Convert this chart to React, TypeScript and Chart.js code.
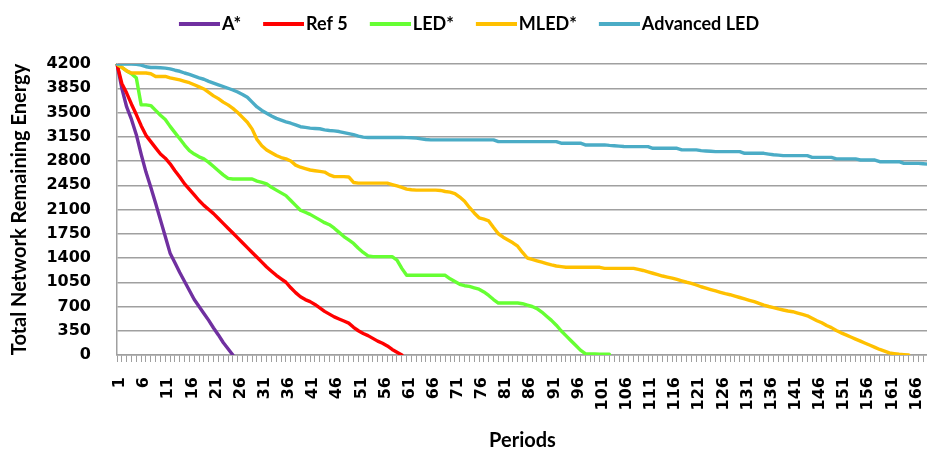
import React, { useEffect, useRef } from 'react';
import { Chart, registerables } from 'chart.js';

Chart.register(...registerables);

// Categories: periods 1..169
const PERIODS: string[] = Array.from({ length: 169 }, (_, i) => String(i + 1));

const Y_MIN = 0;
const Y_MAX = 4200;
const Y_STEP = 350;

const SERIES_NAMES = ['A*', 'Ref 5', 'LED*', 'MLED*', 'Advanced LED'];
const SERIES_COLORS = ['#7030A0', '#FF0000', '#66FF33', '#FFC000', '#4BACC6'];

const A_STAR = [
  4200, 3850, 3580, 3400, 3180, 2900, 2640, 2420, 2190, 1950,
  1710, 1470, 1330, 1190, 1060, 930, 800, 700, 600, 500,
  390, 290, 180, 90, 0,
];

const REF_5 = [
  4200, 3920, 3780, 3620, 3470, 3310, 3170, 3080, 2990, 2900,
  2840, 2760, 2660, 2570, 2470, 2390, 2310, 2230, 2160, 2100,
  2040, 1970, 1900, 1830, 1760, 1690, 1620, 1550, 1480, 1410,
  1340, 1270, 1210, 1150, 1100, 1050, 970, 900, 840, 800,
  770, 730, 680, 630, 590, 550, 520, 490, 460, 400,
  350, 310, 280, 240, 200, 170, 130, 80, 40, 0,
];

const LED = [
  4200, 4150, 4100, 4060, 4000, 3610, 3610, 3600, 3530, 3460,
  3400, 3300, 3210, 3120, 3030, 2950, 2900, 2860, 2830, 2780,
  2720, 2660, 2600, 2550, 2540, 2540, 2540, 2540, 2540, 2510,
  2490, 2470, 2420, 2380, 2340, 2300, 2230, 2160, 2090, 2060,
  2030, 1990, 1950, 1910, 1880, 1830, 1770, 1710, 1660, 1610,
  1540, 1480, 1430, 1420, 1420, 1420, 1420, 1420, 1370, 1250,
  1150, 1150, 1150, 1150, 1150, 1150, 1150, 1150, 1150, 1100,
  1060, 1020, 1000, 990, 970, 950, 910, 860, 800, 750,
  750, 750, 750, 750, 740, 720, 700, 670, 620, 560,
  500, 430, 350, 280, 210, 140, 70, 20, 15, 15,
  10, 10, 10,
];

const MLED = [
  4200, 4150, 4100, 4070, 4070, 4070, 4070, 4060, 4020, 4020,
  4020, 4000, 3985, 3970, 3950, 3930, 3900, 3870, 3840, 3790,
  3740, 3700, 3650, 3610, 3560, 3500, 3430, 3360, 3260, 3110,
  3020, 2960, 2920, 2880, 2850, 2830, 2800, 2740, 2710, 2690,
  2670, 2660, 2650, 2640, 2600, 2575, 2575, 2575, 2570, 2490,
  2480, 2480, 2480, 2480, 2480, 2480, 2480, 2460, 2440, 2420,
  2395, 2385, 2380, 2380, 2380, 2380, 2380, 2375, 2360, 2350,
  2330, 2280, 2220, 2130, 2050, 1980, 1960, 1935, 1840, 1750,
  1700, 1660, 1620, 1570, 1480, 1400, 1380, 1360, 1340, 1320,
  1300, 1285, 1275, 1266, 1266, 1266, 1266, 1266, 1266, 1266,
  1266, 1250, 1250, 1250, 1250, 1250, 1250, 1250, 1235, 1220,
  1200, 1180, 1160, 1140, 1125, 1110, 1090, 1070, 1050, 1035,
  1010, 985, 965, 945, 925, 905, 885, 870, 850, 830,
  810, 790, 770, 745, 720, 700, 685, 665, 650, 635,
  625, 605, 585, 565, 530, 495, 465, 425, 395, 355,
  320, 290, 260, 230, 200, 170, 140, 110, 80, 55,
  30, 20, 10, 5, 0,
];

const ADVANCED_LED = [
  4200, 4200, 4200, 4200, 4195, 4185, 4160, 4150, 4150, 4145,
  4140, 4130, 4110, 4095, 4070, 4050, 4025, 4000, 3980, 3950,
  3925, 3900, 3875, 3850, 3825, 3795, 3760, 3720, 3650, 3580,
  3530, 3490, 3450, 3415, 3390, 3365, 3345, 3320, 3295, 3285,
  3275, 3270, 3265, 3250, 3240, 3235, 3225, 3210, 3195, 3180,
  3160, 3145, 3140, 3140, 3140, 3140, 3140, 3140, 3140, 3140,
  3137, 3135, 3130, 3120, 3110, 3105, 3105, 3105, 3105, 3105,
  3105, 3105, 3105, 3105, 3105, 3105, 3105, 3105, 3105, 3080,
  3080, 3080, 3080, 3080, 3080, 3080, 3080, 3080, 3080, 3080,
  3080, 3080, 3057, 3057, 3057, 3057, 3057, 3032, 3032, 3032,
  3032, 3032, 3025, 3020, 3015, 3010, 3007, 3007, 3007, 3007,
  3007, 2983, 2983, 2983, 2983, 2983, 2983, 2960, 2960, 2960,
  2960, 2950, 2945, 2940, 2935, 2935, 2935, 2935, 2935, 2935,
  2911, 2911, 2911, 2911, 2911, 2900, 2890, 2885, 2877, 2877,
  2877, 2877, 2877, 2877, 2853, 2853, 2853, 2853, 2853, 2830,
  2830, 2830, 2830, 2830, 2814, 2814, 2814, 2814, 2790, 2790,
  2790, 2790, 2790, 2766, 2766, 2766, 2766, 2760, 2755,
];

const SERIES_DATA = [A_STAR, REF_5, LED, MLED, ADVANCED_LED];

const TICK_FONT = { family: 'DejaVu Sans', weight: 'bold' as const, size: 16 };
const TITLE_FONT = { family: 'Lato', weight: 'bold' as const, size: 20, lineHeight: 1.2 };
const LEGEND_FONT = { family: 'Lato', weight: 'bold' as const, size: 18 };
const GRID_COLOR = '#a0a0a0';

function legendLine(color: string): HTMLCanvasElement {
  const c = document.createElement('canvas');
  c.width = 48;
  c.height = 6;
  const ctx = c.getContext('2d')!;
  ctx.fillStyle = color;
  ctx.fillRect(7, 1, 41, 4);
  return c;
}

// Gives the legend box a fixed height (space below the items) and a small
// horizontal nudge, so the plot area starts where the reference's does.
const legendLayoutPlugin = {
  id: 'legendLayout',
  beforeInit(chart: any) {
    const legend = chart.legend;
    if (!legend) return;
    const origFit = legend.fit;
    legend.fit = function () {
      origFit.call(this);
      this.height = 71;
    };
    const origDraw = legend.draw;
    legend.draw = function (...args: any[]) {
      const ctx = this.ctx;
      ctx.save();
      ctx.translate(5, 0);
      origDraw.apply(this, args);
      ctx.restore();
    };
  },
};

export default function App() {
  const ref = useRef<HTMLCanvasElement>(null);

  useEffect(() => {
    const legendMarks = SERIES_COLORS.map(legendLine);
    const chart = new Chart(ref.current!, {
      type: 'line',
      data: {
        labels: PERIODS,
        datasets: SERIES_NAMES.map((name, i) => ({
          label: name,
          data: SERIES_DATA[i],
          borderColor: SERIES_COLORS[i],
          backgroundColor: SERIES_COLORS[i],
          borderWidth: 3.4,
          pointRadius: 0,
          pointHoverRadius: 0,
          tension: 0,
          fill: false,
          borderJoinStyle: 'round' as const,
          borderCapStyle: 'round' as const,
          order: SERIES_NAMES.length - 1 - i,
        })),
      },
      plugins: [legendLayoutPlugin],
      options: {
        animation: false,
        responsive: false,
        maintainAspectRatio: false,
        events: [],
        layout: { padding: { left: 0, right: 0, top: -7, bottom: 0 } },
        plugins: {
          tooltip: { enabled: false },
          legend: {
            display: true,
            position: 'top',
            labels: {
              usePointStyle: true,
              pointStyleWidth: 34,
              boxHeight: 6,
              padding: 22,
              color: '#000',
              font: LEGEND_FONT,
              sort: (a: any, b: any) => a.datasetIndex - b.datasetIndex,
              generateLabels: (ch: any) =>
                Chart.defaults.plugins.legend.labels
                  .generateLabels(ch)
                  .map((l: any) => ({ ...l, pointStyle: legendMarks[l.datasetIndex] })),
            },
          },
        },
        scales: {
          x: {
            type: 'category',
            offset: false,
            ticks: {
              autoSkip: false,
              minRotation: 90,
              maxRotation: 90,
              padding: 15,
              labelOffset: 3,
              color: '#000',
              font: TICK_FONT,
              callback: (_v: any, i: number) => (i % 5 === 0 ? PERIODS[i] : ''),
            },
            grid: {
              drawOnChartArea: false,
              drawTicks: true,
              tickLength: 7,
              color: GRID_COLOR,
              lineWidth: 1,
            },
            border: { display: true, color: GRID_COLOR, width: 1.5 },
            title: {
              display: true,
              text: 'Periods',
              color: '#000',
              font: { ...TITLE_FONT, lineHeight: 1 },
              padding: { top: 0, bottom: 0 },
            },
            afterFit: (s: any) => {
              s.height = 96;
              s.paddingLeft = 0;
              s.paddingRight = 0;
            },
          },
          y: {
            min: Y_MIN,
            max: Y_MAX,
            ticks: {
              stepSize: Y_STEP,
              color: '#000',
              font: TICK_FONT,
              padding: 26,
              callback: (v: any) => String(v),
            },
            grid: { color: GRID_COLOR, lineWidth: 1.5, drawTicks: false },
            border: { display: true, color: GRID_COLOR, width: 1.5 },
            title: {
              display: true,
              text: 'Total Network Remaining Energy',
              color: '#000',
              font: TITLE_FONT,
              padding: { top: 8, bottom: 0 },
            },
            afterFit: (s: any) => {
              s.width = 117;
            },
          },
        },
      },
    } as any);
    return () => chart.destroy();
  }, []);

  return (
    <div
      style={{
        position: 'fixed',
        left: 0,
        top: 0,
        width: 927,
        height: 451,
        overflow: 'hidden',
        background: '#fff',
      }}
    >
      <canvas ref={ref} width={928} height={451} style={{ display: 'block', width: 928, height: 451 }} />
    </div>
  );
}
